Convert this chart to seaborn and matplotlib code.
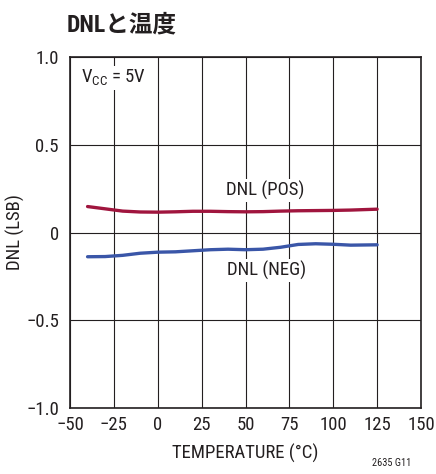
import matplotlib
matplotlib.use("Agg")
import matplotlib.pyplot as plt
import seaborn as sns
import pandas as pd

# Temperature sweep (°C) and measured DNL (LSB)
temperature = [-40, -30, -20, -10, 0, 10, 20, 30, 40, 50, 60, 70, 80, 90, 100, 110, 125]
dnl_pos = [0.148, 0.135, 0.122, 0.117, 0.116, 0.118, 0.121, 0.121, 0.119, 0.118, 0.119, 0.122, 0.124, 0.125, 0.126, 0.128, 0.133]
dnl_neg = [-0.138, -0.137, -0.130, -0.118, -0.112, -0.110, -0.104, -0.098, -0.095, -0.098, -0.095, -0.084, -0.068, -0.064, -0.067, -0.072, -0.070]

x_ticks = [-50, -25, 0, 25, 50, 75, 100, 125, 150]
y_ticks = [-1.0, -0.5, 0.0, 0.5, 1.0]
y_tick_labels = ["\u22121.0", "\u22120.5", "0", "0.5", "1.0"]

sns.set_theme(style="white")
font_main = ["Roboto Condensed", "Liberation Sans Narrow", "Roboto", "DejaVu Sans"]
plt.rcParams["font.family"] = font_main
plt.rcParams["axes.unicode_minus"] = True

ink = "#231f20"
fs = 13.5

df = pd.DataFrame({
    "temp": temperature * 2,
    "dnl": dnl_pos + dnl_neg,
    "series": ["DNL (POS)"] * len(temperature) + ["DNL (NEG)"] * len(temperature),
})

fig = plt.figure(figsize=(4.36, 4.74), dpi=100)
ax = fig.add_axes([0.1606, 0.1392, 0.8050, 0.7405])

sns.lineplot(data=df, x="temp", y="dnl", hue="series",
             palette={"DNL (POS)": "#a0153e", "DNL (NEG)": "#3a56a8"},
             linewidth=2.4, legend=False, ax=ax, zorder=3)

ax.set_xlim(-50, 150)
ax.set_ylim(-1.0, 1.0)
ax.set_xticks(x_ticks)
ax.set_xticklabels([str(v).replace("-", "\u2212") for v in x_ticks])
ax.set_yticks(y_ticks)
ax.set_yticklabels(y_tick_labels)
ax.tick_params(axis="x", labelsize=fs, length=0, pad=6, colors=ink)
ax.tick_params(axis="y", labelsize=fs, length=0, pad=8, colors=ink)

ax.grid(True, color=ink, linewidth=0.8)
ax.set_axisbelow(True)
for sp in ax.spines.values():
    sp.set_color(ink)
    sp.set_linewidth(1.2)

ax.set_xlabel("TEMPERATURE (\u00b0C)", fontsize=fs, color=ink, labelpad=7)
ax.set_ylabel("DNL (LSB)", fontsize=fs, color=ink, labelpad=1)

bbox = dict(facecolor="white", edgecolor="none", pad=1.5)
ax.text(-44, 0.88, "V$_{\\mathregular{CC}}$ = 5V", fontsize=fs, color=ink,
        va="center", ha="left", bbox=bbox, zorder=4)
ax.text(61, 0.24, "DNL (POS)", fontsize=fs, color=ink,
        va="center", ha="center", bbox=bbox, zorder=4)
ax.text(62, -0.215, "DNL (NEG)", fontsize=fs, color=ink,
        va="center", ha="center", bbox=bbox, zorder=4)

fig.text(0.153, 0.948, "DNLと温度", fontsize=17, fontweight="bold", color=ink,
         family=["Roboto Condensed", "Liberation Sans Narrow", "Roboto", "Noto Sans CJK JP"],
         va="center", ha="left")
fig.text(0.943, 0.012, "2635 G11", fontsize=7.5, color=ink, ha="right", va="bottom")

fig.savefig("out.png", dpi=100)
